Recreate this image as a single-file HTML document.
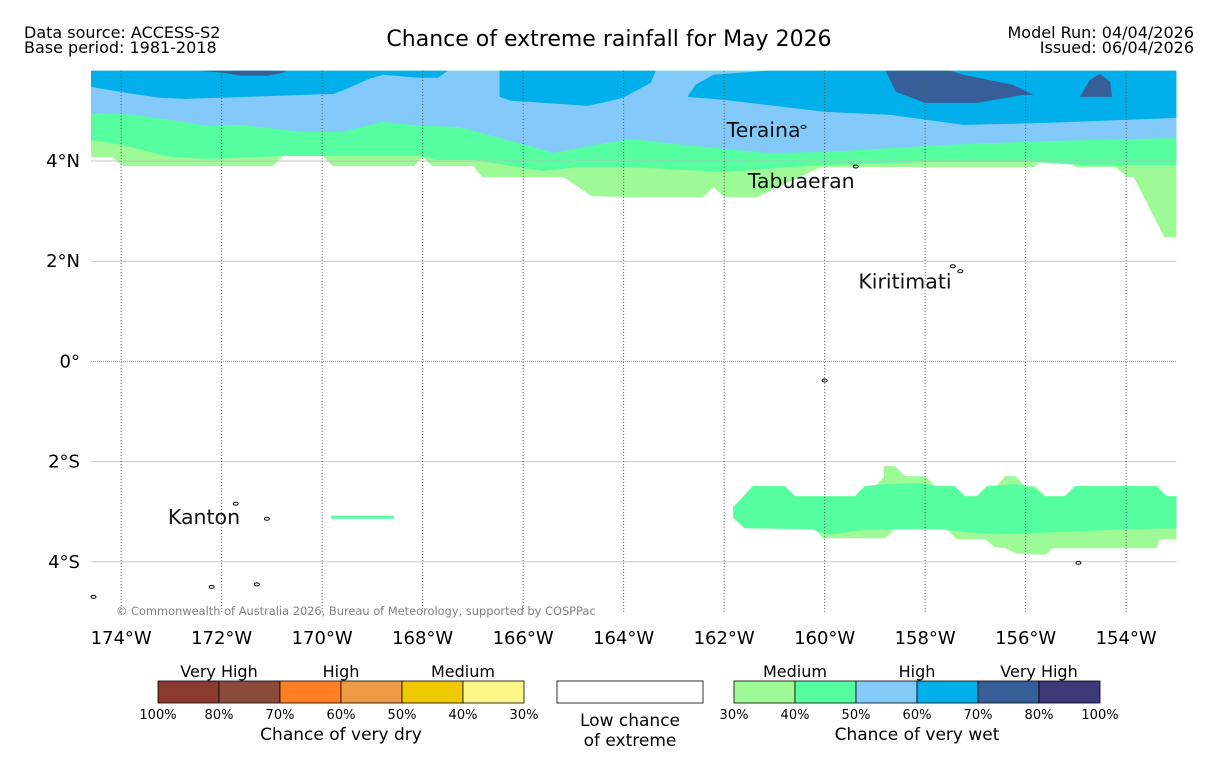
<!DOCTYPE html>
<html><head><meta charset="utf-8">
<style>
body{margin:0;background:#fff;font-family:"Liberation Sans","DejaVu Sans",sans-serif;}
svg{display:block}
text{font-family:"DejaVu Sans","Liberation Sans",sans-serif;}
</style></head>
<body>
<svg id="map" width="1219" height="758" viewBox="0 0 1219 758">
<rect width="1219" height="758" fill="#fff"/>
<text x="24" y="38" font-size="16">Data source: ACCESS-S2</text>
<text x="24" y="53" font-size="16">Base period: 1981-2018</text>
<text x="609" y="46" font-size="22" text-anchor="middle">Chance of extreme rainfall for May 2026</text>
<text x="1194" y="38" font-size="16" text-anchor="end">Model Run: 04/04/2026</text>
<text x="1194" y="53" font-size="16" text-anchor="end">Issued: 06/04/2026</text>
<g id="fills"></g>
<g id="grid"></g>
<g id="islands"></g>
<g id="axes"></g>
<text x="116" y="615" font-size="11.4" fill="#808080">© Commonwealth of Australia 2026, Bureau of Meteorology, supported by COSPPac</text>
<g id="legend"></g>
</svg>
<script>
// ---- data ----
const lonTicks = [-174,-172,-170,-168,-166,-164,-162,-160,-158,-156,-154];
const latTicks = [4,2,0,-2,-4];
const legendColorsDry = ["#8B3A2F","#8B4B3B","#FF7F22","#EE9B48","#EFC900","#FFF68A"];
const legendColorsWet = ["#9DFA97","#55FFA0","#83CAFB","#01B0EA","#365E98","#3C3A78"];
const dryTickLabels = ["100%","80%","70%","60%","50%","40%","30%"];
const wetTickLabels = ["30%","40%","50%","60%","70%","80%","100%"];
const dryCats = ["Very High","High","Medium"];
const wetCats = ["Medium","High","Very High"];
const topLG = [[-174.6,4.08],[-174.18,4.08],[-173.97,3.90],[-170.97,3.90],[-170.78,4.10],[-169.99,4.10],[-169.80,3.90],[-168.17,3.90],[-168.0,4.08],[-167.81,3.90],[-166.99,3.90],[-166.82,3.68],[-165.20,3.68],[-164.64,3.30],[-163.87,3.28],[-162.42,3.28],[-162.21,3.48],[-162.0,3.28],[-161.35,3.28],[-160.07,3.88],[-155.82,3.88],[-155.61,4.08],[-155.20,4.08],[-155.0,3.88],[-154.22,3.88],[-153.97,3.68],[-153.85,3.68],[-153.24,2.48],[-153.0,2.48]];
const topMG = [[-174.6,4.42],[-173.97,4.32],[-173.35,4.16],[-173.0,4.08],[-172.25,4.04],[-170.80,4.10],[-168.02,4.10],[-167.69,4.02],[-166.99,4.02],[-165.61,3.80],[-164.91,3.88],[-163.87,3.88],[-162.0,3.78],[-160.07,3.92],[-158.0,3.98],[-155.82,3.98],[-154.89,3.92],[-153.0,3.92]];
const topLB = [[-174.6,4.96],[-173.70,4.92],[-172.25,4.70],[-171.63,4.72],[-170.39,4.58],[-169.62,4.58],[-168.79,4.78],[-168.02,4.70],[-167.28,4.68],[-165.95,4.32],[-165.40,4.16],[-164.58,4.32],[-163.87,4.44],[-162.78,4.32],[-161.12,4.16],[-159.99,4.18],[-157.64,4.32],[-155.57,4.40],[-153.0,4.46]];
const blueA = [[-174.6,5.8],[-174.6,5.48],[-173.77,5.34],[-173.21,5.26],[-172.73,5.24],[-170.93,5.30],[-169.76,5.34],[-169.47,5.46],[-169.06,5.64],[-168.79,5.72],[-168.10,5.66],[-167.69,5.66],[-167.50,5.8]];
const blueB = [[-166.47,5.8],[-166.47,5.28],[-166.24,5.20],[-165.88,5.18],[-164.70,5.10],[-164.01,5.26],[-163.87,5.34],[-163.46,5.56],[-163.36,5.8]];
const blueC = [[-161.18,5.8],[-162.21,5.72],[-162.57,5.52],[-162.73,5.28],[-162.0,5.22],[-159.99,4.98],[-158.69,4.92],[-157.24,4.72],[-155.57,4.76],[-153.0,4.86],[-153.0,5.8]];
const dark1 = [[-172.46,5.8],[-171.96,5.76],[-171.61,5.70],[-171.10,5.70],[-170.78,5.76],[-170.72,5.8]];
const dark2 = [[-158.79,5.8],[-158.58,5.38],[-158.0,5.16],[-156.97,5.16],[-156.05,5.32],[-155.84,5.32],[-156.26,5.52],[-157.24,5.72],[-157.50,5.8]];
const dark3 = [[-154.92,5.28],[-154.72,5.62],[-154.52,5.74],[-154.32,5.58],[-154.28,5.28]];
const southLG = [[-161.82,-2.91],[-161.43,-2.49],[-160.79,-2.49],[-160.59,-2.69],[-159.40,-2.69],[-159.20,-2.49],[-159.0,-2.49],[-158.82,-2.31],[-158.82,-2.09],[-158.60,-2.09],[-158.40,-2.29],[-158.0,-2.29],[-157.80,-2.49],[-157.41,-2.49],[-157.21,-2.69],[-156.97,-2.69],[-156.77,-2.49],[-156.57,-2.49],[-156.41,-2.29],[-156.21,-2.29],[-156.01,-2.49],[-155.81,-2.49],[-155.61,-2.69],[-155.22,-2.69],[-155.02,-2.49],[-153.39,-2.49],[-153.19,-2.69],[-153.0,-2.69],[-153.0,-3.55],[-153.33,-3.55],[-153.39,-3.73],[-155.46,-3.73],[-155.61,-3.86],[-156.17,-3.84],[-156.41,-3.73],[-156.61,-3.71],[-156.81,-3.55],[-157.37,-3.55],[-157.57,-3.35],[-158.60,-3.35],[-158.80,-3.53],[-160.03,-3.53],[-160.19,-3.35],[-161.59,-3.33],[-161.82,-3.13]];
const southMG = [[-161.82,-2.91],[-161.43,-2.49],[-160.79,-2.49],[-160.59,-2.69],[-159.40,-2.69],[-159.20,-2.49],[-158.8,-2.45],[-158.1,-2.43],[-157.8,-2.49],[-157.41,-2.49],[-157.21,-2.69],[-156.97,-2.69],[-156.77,-2.49],[-156.2,-2.45],[-155.85,-2.52],[-155.61,-2.69],[-155.22,-2.69],[-155.02,-2.49],[-153.39,-2.49],[-153.19,-2.69],[-153.0,-2.69],[-153.0,-3.33],[-154.0,-3.35],[-155.4,-3.41],[-156.5,-3.45],[-157.2,-3.41],[-157.7,-3.35],[-158.9,-3.35],[-159.3,-3.37],[-159.8,-3.45],[-160.05,-3.43],[-160.25,-3.35],[-161.59,-3.33],[-161.82,-3.10]];
const kantonStrip = [[-169.82,-3.11],[-168.57,-3.11]];
const places = [["Teraina",-161.95,4.48],["Tabuaeran",-161.53,3.46],["Kiritimati",-159.33,1.46],["Kanton",-173.07,-3.25]];
const islandPts = [[-160.42,4.68],[-159.38,3.89],[-157.45,1.9],[-157.3,1.8],[-171.72,-2.84],[-171.1,-3.14],[-172.2,-4.5],[-171.3,-4.45],[-174.55,-4.7],[-160.0,-0.38],[-154.95,-4.02]];

// ---- scales ----
const LON0=-174.6, LON1=-153.0, LAT0=5.8, LAT1=-5.02;
const X0=91, PXDEG=50.25, Y4=161, PYDEG=50.1;
const xs = lon => X0 + (lon-LON0)*PXDEG;
const ys = lat => Y4 + (4-lat)*PYDEG;
const NS="http://www.w3.org/2000/svg";
function mk(tag, attrs, parent){const e=document.createElementNS(NS,tag);for(const k in attrs)e.setAttribute(k,attrs[k]);parent.appendChild(e);return e;}
const pts = arr => arr.map(p=>xs(p[0]).toFixed(1)+","+ys(p[1]).toFixed(1)).join(" ");
const fills=document.getElementById("fills");
function band(boundary,color,name){
  const arr=[[LON0,LAT0]].concat(boundary).concat([[LON1,LAT0]]);
  const p=mk("polygon",{points:pts(arr),fill:color},fills);
  
  
}
function poly(arr,color,name){
  const p=mk("polygon",{points:pts(arr),fill:color},fills);
  
  
}
band(topLG,"#9DFA97","north-band-30-40");
band(topMG,"#55FFA0","north-band-40-50");
band(topLB,"#83CAFB","north-band-50-60");
poly(blueA,"#01B0EA","north-blue-west");
poly(blueB,"#01B0EA","north-blue-central");
poly(blueC,"#01B0EA","north-blue-east");
poly(dark1,"#365E98","dark-patch-west");
poly(dark2,"#365E98","dark-patch-east");
poly(dark3,"#365E98","dark-patch-far-east");
poly(southLG,"#9DFA97","south-band-30-40");
poly(southMG,"#55FFA0","south-band-40-50");
const ks=mk("line",{x1:xs(kantonStrip[0][0]),y1:ys(kantonStrip[0][1]),x2:xs(kantonStrip[1][0]),y2:ys(kantonStrip[1][1]),stroke:"#55FFA0","stroke-width":3},fills);



// grid
const grid=document.getElementById("grid");
latTicks.forEach(l=>{
  const g=mk("line",{x1:X0,x2:xs(LON1),y1:ys(l),y2:ys(l),stroke:(l===0?"#888":"#bbb"),"stroke-width":1,"stroke-dasharray":(l===0?"1,1":"none"),opacity:0.8},grid);
  
  
});
lonTicks.forEach(l=>{
  const g=mk("line",{x1:xs(l),x2:xs(l),y1:ys(LAT0),y2:ys(LAT1),stroke:"#555","stroke-width":1,"stroke-dasharray":"1,2"},grid);
  
  
});
// islands
const isl=document.getElementById("islands");
islandPts.forEach(p=>{
  const e=mk("ellipse",{cx:xs(p[0]),cy:ys(p[1]),rx:2.5,ry:1.5,fill:"none",stroke:"#000","stroke-width":1},isl);
  
  
});
places.forEach(p=>{
  const t=mk("text",{x:xs(p[1]),y:ys(p[2]),"font-size":20.5,fill:"#111"},isl);
  t.textContent=p[0];
  
  
});
// axes
const ax=document.getElementById("axes");
lonTicks.forEach(l=>{
  const t=mk("text",{x:xs(l),y:644,"font-size":18,"text-anchor":"middle"},ax);
  t.textContent=Math.abs(l)+"°W";
  
  
});
latTicks.forEach(l=>{
  const t=mk("text",{x:80,y:ys(l)+6,"font-size":18,"text-anchor":"end"},ax);
  t.textContent=l===0?"0°":Math.abs(l)+"°"+(l>0?"N":"S");
  
  
});
// legend
const lg=document.getElementById("legend");
function colorbar(x0,colors,ticks,cats,title,side){
  const w=61;
  colors.forEach((c,i)=>{
    const r=mk("rect",{x:x0+i*w,y:681,width:w,height:22,fill:c,stroke:"#000","stroke-width":0.8},lg);
    
    
  });
  ticks.forEach((t,i)=>{
    const e=mk("text",{x:x0+i*w,y:719,"font-size":13,"text-anchor":"middle"},lg);
    e.textContent=t;
    
    
  });
  cats.forEach((c,i)=>{
    const e=mk("text",{x:x0+w*(2*i+1),y:677,"font-size":16,"text-anchor":"middle"},lg);
    e.textContent=c;
    
    
  });
  const tt=mk("text",{x:x0+3*w,y:740,"font-size":17,"text-anchor":"middle"},lg);
  tt.textContent=title;
  
  
}
colorbar(158,legendColorsDry,dryTickLabels,dryCats,"Chance of very dry","dry");
colorbar(734,legendColorsWet,wetTickLabels,wetCats,"Chance of very wet","wet");
const lc=mk("rect",{x:557,y:681,width:146,height:22,fill:"#fff",stroke:"#000","stroke-width":0.8},lg);


const l1=mk("text",{x:630,y:726,"font-size":17,"text-anchor":"middle"},lg);
l1.textContent="Low chance";


const l2=mk("text",{x:630,y:746,"font-size":17,"text-anchor":"middle"},lg);
l2.textContent="of extreme";


</script>
</body></html>
